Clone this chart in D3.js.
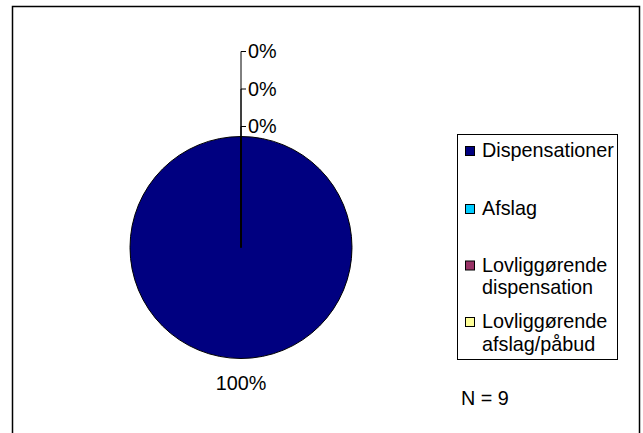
<!DOCTYPE html>
<html>
<head>
<meta charset="utf-8">
<script src="https://cdn.jsdelivr.net/npm/d3@7"></script>
<style>
body { margin: 0; background: #fff; }
text { font-family: "Liberation Sans", Arial, sans-serif; fill: #000; }
</style>
</head>
<body>
<svg width="643" height="433"></svg>
<script>
var categories = ["Dispensationer", "Afslag", "Lovliggørende dispensation", "Lovliggørende afslag/påbud"];
var legendLines = [["Dispensationer"], ["Afslag"], ["Lovliggørende", "dispensation"], ["Lovliggørende", "afslag/påbud"]];
var values = [9, 0, 0, 0];
var colors = ["#000080", "#00CCFF", "#993366", "#FFFF99"];
var nText = "N = 9";

var svg = d3.select("svg");
var fs = 19.8;

// outer frame
svg.append("rect")
  .attr("x", 12.5).attr("y", 6.5)
  .attr("width", 627).attr("height", 440)
  .attr("fill", "#fff").attr("stroke", "#000").attr("stroke-width", 1.5);

var cx = 241, cy = 247.5, r = 111;
var total = d3.sum(values);
var pct = d3.format(".0%");

var pie = d3.pie().sort(null).value(function(d) { return d; });
var arcs = pie(values);
var arc = d3.arc().innerRadius(0).outerRadius(r);
var edge = d3.arc().innerRadius(r).outerRadius(r);

var g = svg.append("g").attr("transform", "translate(" + cx + "," + cy + ")");

g.selectAll("path.slice")
  .data(arcs)
  .enter()
  .append("path")
  .attr("class", "slice")
  .attr("d", arc)
  .attr("fill", function(d, i) { return colors[i]; })
  .attr("stroke", "#000")
  .attr("stroke-width", function(d) { return d.value === 0 ? 1.6 : 1; });

// labels: zero slices get stacked above the pie with leader lines
var zeroCount = 0;
arcs.forEach(function(d, i) {
  var p = edge.centroid(d);
  var label = pct(d.value / total);
  if (d.value === 0) {
    var ly = -r - 10 - zeroCount * 37.5;
    zeroCount++;
    g.append("polyline")
      .attr("points", [[p[0], p[1]], [p[0], ly], [p[0] + 5, ly]].join(" "))
      .attr("fill", "none").attr("stroke", "#000").attr("stroke-width", 1);
    g.append("text")
      .attr("x", p[0] + 7).attr("y", ly)
      .attr("dy", "0.35em")
      .attr("font-size", fs)
      .text(label);
  } else {
    var a = (d.startAngle + d.endAngle) / 2;
    var lr = r + 25;
    g.append("text")
      .attr("x", Math.sin(a) * lr).attr("y", -Math.cos(a) * lr)
      .attr("dy", "0.35em")
      .attr("text-anchor", "middle")
      .attr("font-size", fs)
      .text(label);
  }
});

// legend
var legend = svg.append("g");
legend.append("rect")
  .attr("x", 457.5).attr("y", 134.5)
  .attr("width", 160).attr("height", 225)
  .attr("fill", "#fff").attr("stroke", "#000").attr("stroke-width", 1);

var rowY = [157, 215, 271.5, 328];
var items = legend.selectAll("g.item")
  .data(categories)
  .enter()
  .append("g")
  .attr("class", "item")
  .attr("transform", function(d, i) { return "translate(0," + rowY[i] + ")"; });

items.append("rect")
  .attr("x", 465.5).attr("y", -10.5)
  .attr("width", 9).attr("height", 9)
  .attr("fill", function(d, i) { return colors[i]; })
  .attr("stroke", "#000").attr("stroke-width", 1);

items.append("text")
  .attr("x", 482).attr("y", 0)
  .attr("font-size", fs)
  .selectAll("tspan")
  .data(function(d, i) { return legendLines[i]; })
  .enter()
  .append("tspan")
  .attr("x", 482)
  .attr("dy", function(d, j) { return j === 0 ? 0 : 22.5; })
  .text(function(d) { return d; });

svg.append("text")
  .attr("x", 461).attr("y", 405)
  .attr("font-size", fs)
  .text(nText);
</script>
</body>
</html>
